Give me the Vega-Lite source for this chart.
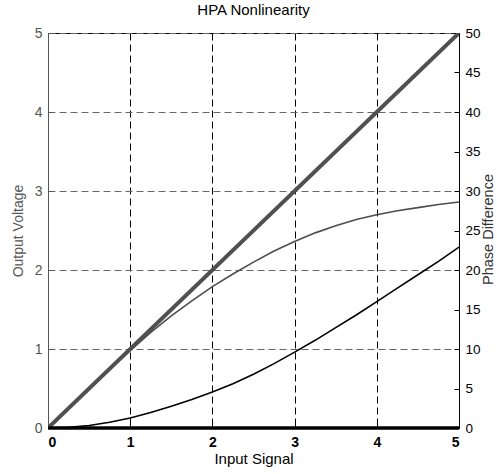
{
  "$schema": "https://vega.github.io/schema/vega-lite/v6.json",
  "width": 411,
  "height": 395,
  "autosize": "none",
  "padding": {"left": 48, "top": 33, "right": 38, "bottom": 46},
  "title": {"text": "HPA Nonlinearity", "fontSize": 15, "font": "Liberation Sans", "fontWeight": "normal", "offset": 8, "color": "black"},
  "config": {"font": "Liberation Sans", "view": {"stroke": "black", "strokeWidth": 1}},
  "data": {"values": [
    {"x": 0, "s": "linear", "v": 0}, {"x": 5, "s": "linear", "v": 5},
    {"x": 0, "s": "amam", "v": 0}, {"x": 0.5, "s": "amam", "v": 0.5}, {"x": 1, "s": "amam", "v": 0.98},
    {"x": 1.25, "s": "amam", "v": 1.21}, {"x": 1.5, "s": "amam", "v": 1.42}, {"x": 1.75, "s": "amam", "v": 1.61},
    {"x": 2, "s": "amam", "v": 1.79}, {"x": 2.25, "s": "amam", "v": 1.95}, {"x": 2.5, "s": "amam", "v": 2.1},
    {"x": 2.75, "s": "amam", "v": 2.24}, {"x": 3, "s": "amam", "v": 2.36}, {"x": 3.25, "s": "amam", "v": 2.47},
    {"x": 3.5, "s": "amam", "v": 2.56}, {"x": 3.75, "s": "amam", "v": 2.64}, {"x": 4, "s": "amam", "v": 2.7},
    {"x": 4.25, "s": "amam", "v": 2.75}, {"x": 4.5, "s": "amam", "v": 2.79}, {"x": 4.75, "s": "amam", "v": 2.83},
    {"x": 5, "s": "amam", "v": 2.86},
    {"x": 0, "s": "ampm", "v": 0}, {"x": 0.25, "s": "ampm", "v": 0.08}, {"x": 0.5, "s": "ampm", "v": 0.32},
    {"x": 0.75, "s": "ampm", "v": 0.72}, {"x": 1, "s": "ampm", "v": 1.27}, {"x": 1.25, "s": "ampm", "v": 1.95},
    {"x": 1.5, "s": "ampm", "v": 2.75}, {"x": 1.75, "s": "ampm", "v": 3.6}, {"x": 2, "s": "ampm", "v": 4.55},
    {"x": 2.25, "s": "ampm", "v": 5.6}, {"x": 2.5, "s": "ampm", "v": 6.8}, {"x": 2.75, "s": "ampm", "v": 8.15},
    {"x": 3, "s": "ampm", "v": 9.6}, {"x": 3.25, "s": "ampm", "v": 11.1}, {"x": 3.5, "s": "ampm", "v": 12.7},
    {"x": 3.75, "s": "ampm", "v": 14.3}, {"x": 4, "s": "ampm", "v": 16.0}, {"x": 4.25, "s": "ampm", "v": 17.7},
    {"x": 4.5, "s": "ampm", "v": 19.4}, {"x": 4.75, "s": "ampm", "v": 21.1}, {"x": 5, "s": "ampm", "v": 22.9},
    {"x": 0, "s": "zero", "v": 0}, {"x": 5, "s": "zero", "v": 0}
  ]},
  "encoding": {
    "x": {"field": "x", "type": "quantitative", "scale": {"domain": [0, 5], "nice": false, "zero": false},
      "axis": {"values": [0, 1, 2, 3, 4, 5], "title": "Input Signal", "titleFontSize": 15, "titleFontWeight": "normal", "titleColor": "black", "titlePadding": 2,
        "labelFontSize": 14, "labelFontWeight": "bold", "labelColor": "black", "labelPadding": 12, "tickSize": -5, "tickColor": "black", "domainColor": "black",
        "grid": true, "gridDash": [7, 4], "gridColor": "black", "gridOpacity": 1, "gridWidth": 1}}
  },
  "layer": [
    {
      "encoding": {
        "y": {"field": "v", "type": "quantitative", "scale": {"domain": [0, 5], "nice": false},
          "axis": {"orient": "left", "values": [0, 1, 2, 3, 4, 5], "title": "Output Voltage", "titleFontSize": 14, "titleFontWeight": "normal", "titleColor": "#555555", "titlePadding": 9,
            "labelFontSize": 14, "labelColor": "#555555", "labelPadding": 11, "tickSize": -5, "tickColor": "#555555", "domainColor": "#555555",
            "grid": true, "gridDash": [7, 4], "gridColor": "#666666", "gridOpacity": 1, "gridWidth": 1}}
      },
      "layer": [
        {"transform": [{"filter": "datum.s == 'amam'"}], "mark": {"type": "line", "color": "#4d4d4d", "strokeWidth": 1.6, "clip": true}},
        {"transform": [{"filter": "datum.s == 'linear'"}], "mark": {"type": "line", "color": "#505050", "strokeWidth": 4, "clip": true}}
      ]
    },
    {
      "encoding": {
        "y": {"field": "v", "type": "quantitative", "scale": {"domain": [0, 50], "nice": false},
          "axis": {"orient": "right", "values": [0, 5, 10, 15, 20, 25, 30, 35, 40, 45, 50], "title": "Phase Difference", "titleAngle": 270, "titleBaseline": "middle", "titleAlign": "center", "titleX": 29, "titleY": 196, "titleFontSize": 14.5, "titleFontWeight": "normal", "titleColor": "#333333",
            "labelFontSize": 13.5, "labelColor": "black", "labelPadding": 11, "tickSize": -5, "tickColor": "black", "domainColor": "black", "grid": false}}
      },
      "layer": [
        {"transform": [{"filter": "datum.s == 'ampm'"}], "mark": {"type": "line", "color": "black", "strokeWidth": 1.6, "clip": true}},
        {"transform": [{"filter": "datum.s == 'zero'"}], "mark": {"type": "line", "color": "black", "strokeWidth": 3.5}}
      ]
    }
  ],
  "resolve": {"scale": {"y": "independent"}}
}
